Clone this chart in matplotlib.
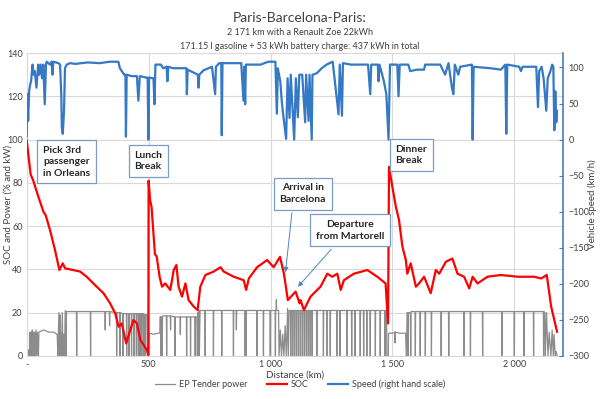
import matplotlib
matplotlib.use("Agg")
import matplotlib.pyplot as plt

plt.rcParams['font.family'] = ['Lato', 'DejaVu Sans']

# SOC (%) vs distance (km)
soc_km = [0, 16, 27, 48, 69, 78, 96, 116, 134, 148, 157, 219, 246, 287, 315, 342, 363, 377, 390,
          408, 425, 438, 452, 466, 493, 499, 500, 506, 512, 519, 526, 533, 545, 555, 568, 589, 603,
          614, 623, 637, 651, 664, 685, 701, 712, 733, 767, 795, 808, 849, 890, 900, 911, 945, 986,
          1013, 1039, 1055, 1071, 1089, 1103, 1119, 1123, 1137, 1164, 1205, 1233, 1253, 1274, 1288,
          1301, 1342, 1397, 1438, 1472, 1482, 1486, 1500, 1514, 1527, 1541, 1555, 1561, 1575, 1596,
          1609, 1630, 1657, 1678, 1692, 1719, 1746, 1767, 1794, 1815, 1829, 1849, 1890, 1945, 2014,
          2082, 2110, 2133, 2151, 2164, 2175]
soc_pct = [99.7, 84, 81, 73.5, 66.6, 65, 58, 49, 39.7, 42.8, 40.5, 39, 36.6, 32, 29, 24.3, 19.7, 13.5, 15,
           5.8, 12, 16.6, 15, 7.4, 2.8, 0.5, 81, 72, 69, 58, 47, 46, 36.6, 32, 33.5, 30.5, 39.7,
           42, 32, 27.4, 33.5, 25.8, 22.8, 21.2, 32, 37.4, 39, 41, 39, 36.6, 35, 30.5, 35.8, 41, 44.3,
           41, 45.8, 38, 25.8, 28, 29.7, 24.3, 25.8, 21.2, 27.4, 32, 38, 36.6, 38, 30.5,
           35, 38, 39.7, 36.6, 33.5, 15, 87.4, 78, 69, 62.8, 50.5, 44.3, 38, 42.8, 32,
           33.5, 36.6, 29, 39.7, 38, 43.5, 45, 38, 36.6, 31.2, 36.6, 33.5, 36.6, 37.4, 36.6,
           36.6, 35.8, 37.4, 22.8, 16.6, 11.2]

# vehicle speed (km/h) vs distance (km)
speed_km = [0, 3, 6, 10, 14, 18, 24, 29, 33, 40, 47, 51, 57, 63, 68, 74, 79, 82, 96, 102, 106, 109,
            130, 137, 142, 144, 148, 153, 157, 164, 178, 200, 250, 300, 340, 376, 382, 400, 405, 407,
            410, 430, 452, 458, 464, 490, 496, 499, 502, 520, 524, 528, 550, 560, 574, 577, 581, 600,
            630, 655, 657, 660, 690, 702, 705, 708, 725, 760, 773, 776, 790, 798, 800, 803, 850, 880,
            889, 892, 896, 899, 960, 990, 1020, 1026, 1030, 1040, 1046, 1050, 1064, 1070, 1078, 1083,
            1097, 1104, 1112, 1118, 1130, 1142, 1146, 1156, 1160, 1169, 1172, 1190, 1210, 1230, 1255,
            1279, 1284, 1293, 1297, 1330, 1370, 1400, 1409, 1413, 1440, 1443, 1447, 1465, 1475, 1484,
            1490, 1520, 1525, 1530, 1565, 1573, 1600, 1630, 1634, 1690, 1696, 1716, 1730, 1744, 1750,
            1756, 1770, 1778, 1826, 1829, 1833, 1900, 1945, 1963, 1967, 1971, 2020, 2027, 2034, 2090,
            2097, 2102, 2112, 2120, 2131, 2137, 2148, 2155, 2160, 2164, 2168, 2172, 2175]
speed_kmh = [4, 63, 26, 67, 76, 81, 104, 90, 95, 72, 104, 90, 104, 85, 104, 49, 104, 108, 104, 108, 90, 108,
             106, 104, 60, 17, 8, 40, 99, 104, 106, 105, 107, 106, 108, 108, 99, 90, 90, 4,
             90, 88, 88, 54, 88, 86, 86, 0, 86, 85, 49, 104, 104, 99, 101, 81, 101, 99,
             99, 99, 63, 97, 92, 90, 72, 90, 96, 101, 63, 101, 106, 106, 6, 106, 106, 106,
             54, 101, 49, 104, 104, 108, 108, 36, 99, 81, 54, 40, 1, 85, 30, 90,
             0, 85, 31, 90, 90, 24, 90, 26, 90, 0, 90, 92, 99, 104, 108,
             35, 104, 33, 106, 104, 104, 104, 63, 104, 104, 81, 104, 81, 63, 0,
             104, 104, 60, 104, 104, 95, 97, 97, 104, 104, 104, 90, 106, 72, 63,
             104, 90, 101, 104, 0, 101, 99, 97, 104, 8, 104, 101, 95, 101, 101,
             45, 95, 101, 85, 40, 85, 95, 104, 101, 13, 67, 24, 40]

# EP tender power (kW) vs distance (km), as (km, kW) readings
power_points = [
    (0, 0), (4, 2), (8, 0), (10, 3), (12, 0), (13, 11), (16, 0), (18, 11), (21, 0), (23, 12),
    (26, 0), (28, 11), (31, 0), (33, 11), (36, 0), (38, 12), (42, 0), (44, 11), (48, 0), (50, 11),
    (70, 12), (90, 11), (110, 11), (125, 10), (128, 0), (130, 11), (132, 20), (134, 0), (136, 19),
    (138, 0), (140, 11), (143, 0), (146, 20), (149, 0), (152, 10), (155, 0), (158, 21), (161, 0),
    (163, 20.5), (204, 20.5), (205, 0), (206, 20.5), (261, 20.5), (262, 0), (263, 20.5),
    (321, 20.5), (322, 12), (323, 20.5), (339, 20.5), (340, 14), (341, 20.5), (368, 20), (369, 0),
    (370, 20), (382, 20), (383, 0), (384, 20), (394, 19.5), (395, 0), (396, 19.5), (409, 19.5),
    (410, 0), (411, 19.5), (419, 19.5), (420, 0), (421, 19.5), (429, 19.5), (430, 0), (431, 19.5),
    (439, 19.5), (440, 0), (441, 19.5), (449, 19.5), (450, 0), (451, 19.5), (457, 19.5), (458, 0),
    (459, 19.5), (464, 19.5), (465, 0), (466, 19.5), (471, 19.5), (472, 0), (473, 19.5),
    (479, 19.5), (480, 0), (481, 19), (486, 19), (487, 0), (488, 19), (494, 19), (495, 0), (500, 0),
    (503, 10.5), (520, 10), (540, 10.5), (546, 10.5), (547, 18), (549, 18), (550, 0), (551, 18),
    (555, 18), (556, 0), (557, 18.5), (573, 18.5), (574, 0), (575, 18.5), (589, 18.5), (590, 12),
    (591, 18.5), (607, 18), (608, 0), (609, 18), (629, 18), (630, 10), (631, 18), (655, 18),
    (656, 0), (657, 18), (671, 18), (672, 0), (673, 18), (690, 18), (691, 0), (692, 18), (698, 18),
    (700, 0), (702, 20), (704, 0), (706, 21), (708, 0), (711, 21), (731, 21), (732, 0), (733, 21),
    (765, 21), (766, 0), (767, 21), (799, 21), (800, 0), (801, 21), (847, 21), (848, 0), (849, 21),
    (859, 21), (860, 12), (861, 21), (895, 21), (896, 0), (897, 21), (899, 21), (900, 0), (901, 21),
    (943, 21), (944, 0), (945, 21), (970, 21), (971, 0), (972, 21), (998, 21), (999, 0), (1000, 21),
    (1019, 21), (1020, 0), (1021, 21), (1023, 21), (1024, 26), (1025, 21), (1033, 21), (1035, 0),
    (1040, 12), (1045, 0), (1050, 10), (1055, 0), (1060, 14), (1065, 0), (1070, 22), (1073, 0),
    (1076, 21), (1082, 21), (1083, 0), (1084, 21), (1090, 21), (1091, 0), (1092, 21), (1098, 21),
    (1099, 0), (1100, 21), (1106, 21), (1107, 0), (1108, 21), (1114, 21), (1115, 0), (1116, 21),
    (1122, 21), (1123, 0), (1124, 21), (1130, 21), (1131, 0), (1132, 21), (1138, 21), (1139, 0),
    (1140, 21), (1146, 21), (1147, 0), (1148, 21), (1154, 21), (1155, 0), (1156, 21), (1162, 21),
    (1163, 0), (1164, 21), (1170, 21), (1171, 0), (1172, 21), (1189, 21), (1190, 0), (1191, 21),
    (1216, 21), (1217, 0), (1218, 21), (1230, 21), (1231, 0), (1232, 21), (1244, 21), (1245, 0),
    (1246, 21), (1271, 21), (1272, 0), (1273, 21), (1284, 21), (1285, 0), (1286, 21), (1312, 21),
    (1313, 0), (1314, 21), (1332, 21), (1333, 0), (1334, 21), (1346, 21), (1347, 0), (1348, 21),
    (1367, 21), (1368, 0), (1369, 21), (1381, 21), (1382, 0), (1383, 21), (1394, 21), (1395, 0),
    (1396, 21), (1408, 21), (1409, 0), (1410, 21), (1429, 21), (1430, 0), (1431, 21), (1449, 21),
    (1450, 0), (1451, 21), (1469, 21), (1470, 0), (1471, 21), (1476, 21), (1477, 0), (1483, 0),
    (1484, 10.5), (1500, 10.5), (1510, 11), (1511, 6), (1512, 11), (1530, 10.5), (1554, 10.5),
    (1557, 0), (1558, 0), (1560, 20), (1564, 20), (1565, 0), (1566, 20), (1574, 20), (1575, 0),
    (1576, 20.5), (1593, 20.5), (1594, 0), (1595, 20.5), (1613, 20.5), (1614, 0), (1615, 20.5),
    (1634, 20.5), (1635, 0), (1636, 20.5), (1659, 20.5), (1660, 0), (1661, 20.5), (1699, 20.5),
    (1700, 0), (1701, 20.5), (1730, 20.5), (1731, 0), (1732, 20.5), (1792, 20.5), (1793, 0),
    (1794, 20.5), (1819, 20.5), (1820, 0), (1821, 20.5), (1869, 20.5), (1870, 0), (1871, 20.5),
    (1949, 20.5), (1950, 0), (1951, 20.5), (1999, 20.5), (2000, 0), (2001, 20.5), (2039, 20.5),
    (2040, 0), (2041, 20.5), (2078, 20.5), (2079, 0), (2080, 20.5), (2119, 20.5), (2120, 0),
    (2121, 20.5), (2125, 20), (2127, 0), (2132, 20), (2138, 0), (2143, 11), (2150, 0), (2155, 12),
    (2160, 0), (2163, 10), (2168, 0), (2172, 2), (2175, 0),
]
power_km = [p[0] for p in power_points]
power_kw = [p[1] for p in power_points]

x_ticks = [0, 500, 1000, 1500, 2000]
x_labels = ['-', '500', '1 000', '1 500', '2 000']

fig = plt.figure(figsize=(6, 3.99), dpi=100)
ax = fig.add_axes([0.0445, 0.108, 0.894, 0.759])
ax2 = ax.twinx()

gray = '#8c8c8c'
red = '#ff0000'
blue = '#3478c6'
box_edge = '#7a9cc6'

ax.plot(power_km, power_kw, color=gray, lw=0.9, label='EP Tender power', zorder=2)
ax.plot(soc_km, soc_pct, color=red, lw=1.6, label='SOC', zorder=3)
ax2.plot(speed_km, speed_kmh, color=blue, lw=1.6, label='Speed (right hand scale)')

ax.set_xlim(0, 2200)
ax.set_ylim(0, 140)
ax.set_yticks(range(0, 141, 20))
ax.set_xticks(x_ticks)
ax.set_xticklabels(x_labels)
ax2.set_ylim(-300, 120)
ax2.set_yticks(range(-300, 101, 50))

ax.grid(True, color='#d9d9d9', lw=0.8)
ax.set_axisbelow(True)
for s in ['top', 'right']:
    ax.spines[s].set_visible(False)
for s in ['top', 'left', 'bottom']:
    ax2.spines[s].set_visible(False)
ax.spines['left'].set_color('#d9d9d9')
ax.spines['bottom'].set_color('#d9d9d9')
ax2.spines['right'].set_color('#4a7ebb')
ax2.spines['right'].set_linewidth(1.2)

ax.tick_params(axis='both', length=0, labelsize=6.5, colors='#404040', pad=3)
ax2.tick_params(axis='y', direction='in', length=3, color='#4a7ebb', labelsize=6.5,
                labelcolor='#404040', pad=4)

ax.set_xlabel('Distance (km)', fontsize=7, color='#404040')
ax.xaxis.set_label_coords(0.5, -0.047)
ax.set_ylabel('SOC and Power (% and kW)', fontsize=7, color='#404040')
ax.yaxis.set_label_coords(-0.027, 0.5)
ax2.set_ylabel('Vehicle speed (km/h)', fontsize=7, color='#404040')
ax2.yaxis.set_label_coords(1.046, 0.5)

fig.text(0.5, 0.955, 'Paris-Barcelona-Paris:', ha='center', va='center', fontsize=10, color='#404040')
fig.text(0.5, 0.918, '2 171 km with a Renault Zoe 22kWh', ha='center', va='center', fontsize=6.5, color='#404040')
fig.text(0.5, 0.884, '171.15 l gasoline + 53 kWh battery charge: 437 kWh in total', ha='center',
         va='center', fontsize=6.5, color='#404040')

# callout boxes
bbox = dict(boxstyle='square,pad=0.55', fc='white', ec=box_edge, lw=0.9)
txt = dict(fontsize=7.5, color='#262626', fontweight='bold', transform=ax.transData, zorder=10,
           va='center', linespacing=1.35)
ax2.text(163, 89.8, 'Pick 3rd\npassenger\nin Orleans', ha='center', multialignment='left', bbox=bbox, **txt)
ax2.text(500, 90, 'Lunch\nBreak', ha='center', multialignment='left', bbox=bbox, **txt)
ax2.text(1132, 75, 'Arrival in\nBarcelona', ha='center', multialignment='center', bbox=bbox, **txt)
ax2.text(1327, 58, 'Departure\nfrom Martorell', ha='center', multialignment='center', bbox=bbox, **txt)
ax2.text(1577, 92.8, 'Dinner\nBreak', ha='center', multialignment='left', bbox=bbox, **txt)

arrow = dict(arrowstyle='-|>', color='#4a86c8', lw=0.7, mutation_scale=7)
ax2.annotate('', xy=(1060, 37.4), xytext=(1089, 67.4), xycoords=ax.transData,
             textcoords=ax.transData, arrowprops=arrow)
ax2.annotate('', xy=(1105, 31), xytext=(1257, 50.3), xycoords=ax.transData,
             textcoords=ax.transData, arrowprops=arrow)

h1, l1 = ax.get_legend_handles_labels()
h2, l2 = ax2.get_legend_handles_labels()
fig.legend(h1 + h2, l1 + l2, loc='center', bbox_to_anchor=(0.5, 0.036), ncol=3, frameon=False,
           fontsize=6.5, handlelength=2.2, columnspacing=2.2, handletextpad=0.4,
           labelcolor='#404040')

fig.savefig('out.png', dpi=100)
